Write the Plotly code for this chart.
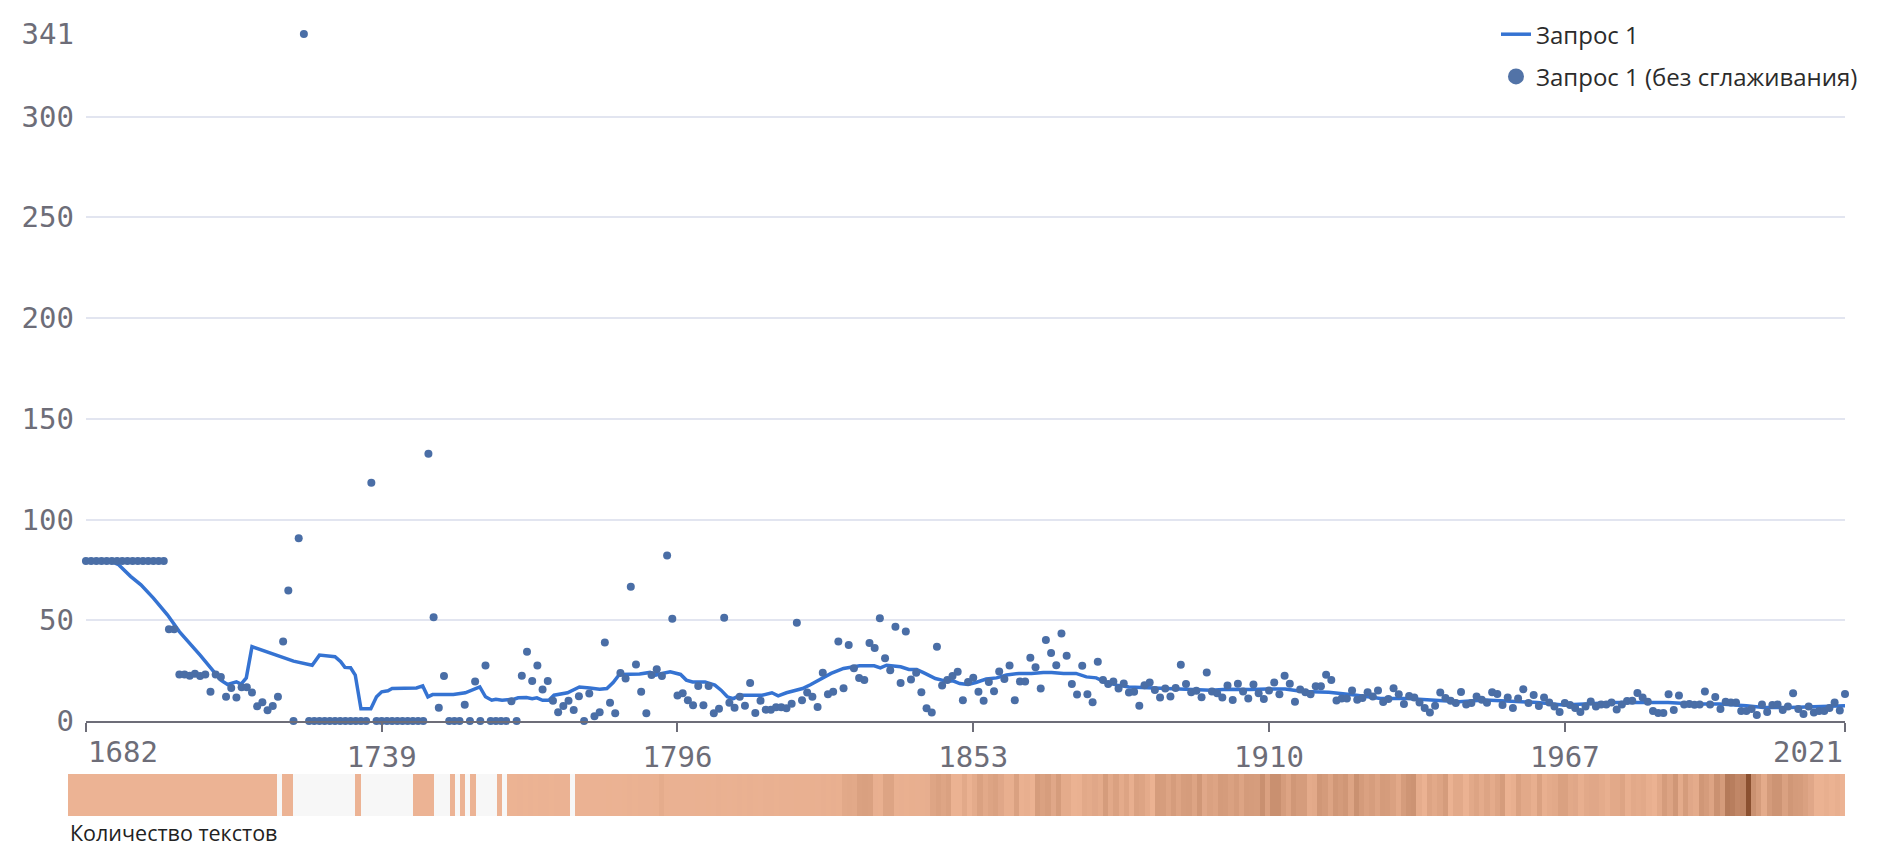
import plotly.graph_objects as go

# years shown on the chart
first_year = 1682
last_year = 2021
years = list(range(first_year, last_year + 1))

# raw (unsmoothed) values, one per year, grouped by decade
raw_values = (
    [79.4] * 8 +                                                        # 1682-1689
    [79.4] * 8 + [45.5, 45.5] +                                         # 1690s
    [23.1, 23.1, 22.4, 23.4, 22.3, 23.1, 14.5, 23.1, 21.8, 12.0] +      # 1700s
    [16.4, 11.6, 16.8, 16.8, 14.1, 7.3, 9.3, 5.3, 7.5, 12.0] +          # 1710s
    [39.5, 64.8, 0, 90.7, 341, 0, 0, 0, 0, 0] +                         # 1720s
    [0, 0, 0, 0, 0, 0, 0, 118.3, 0, 0] +                                # 1730s
    [0, 0, 0, 0, 0, 0, 0, 0, 132.7, 51.5] +                             # 1740s
    [6.6, 22.3, 0, 0, 0, 8.1, 0, 19.6, 0, 27.6] +                       # 1750s
    [0, 0, 0, 0, 9.8, 0, 22.4, 34.4, 19.8, 27.6] +                      # 1760s
    [15.6, 19.9, 10.0, 4.3, 7.5, 10.0, 5.5, 12.3, 0, 13.6] +            # 1770s
    [2.3, 4.3, 39.0, 9.1, 3.8, 23.8, 21.1, 66.6, 28.1, 14.5] +          # 1780s
    [3.8, 22.8, 25.7, 22.3, 82.1, 50.7, 12.6, 13.8, 10.3, 7.8] +        # 1790s
    [17.4, 7.8, 17.4, 3.8, 6.1, 51.2, 9.1, 6.6, 12.0, 7.6] +            # 1800s
    [18.8, 4.0, 10.1, 5.6, 5.6, 6.8, 6.8, 6.3, 8.5, 48.8] +             # 1810s
    [10.3, 14.1, 12.0, 7.0, 23.9, 13.3, 14.5, 39.5, 16.3, 37.7] +       # 1820s
    [26.2, 21.3, 20.4, 38.7, 36.2, 51.0, 31.1, 25.2, 46.8, 18.8] +      # 1830s
    [44.4, 20.6, 23.9, 14.3, 6.3, 4.2, 36.9, 17.6, 20.3, 22.3] +        # 1840s
    [24.4, 10.3, 19.4, 21.4, 14.5, 10.0, 19.4, 14.8, 24.6, 20.8] +      # 1850s
    [27.6, 10.3, 19.6, 19.6, 31.4, 26.7, 16.1, 40.2, 33.7, 27.7] +      # 1860s
    [43.4, 32.4, 18.3, 13.1, 27.4, 13.3, 9.3, 29.4, 20.3, 18.3] +       # 1870s
    [19.6, 16.1, 18.6, 14.1, 14.5, 7.6, 17.8, 19.1, 15.4, 11.6] +       # 1880s
    [16.1, 12.1, 16.4, 27.9, 18.3, 14.3, 15.0, 11.8, 24.1, 14.6] +      # 1890s
    [13.8, 11.6, 17.6, 10.4, 18.5, 14.6, 11.2, 18.1, 13.8, 10.9] +      # 1900s
    [15.1, 19.1, 13.3, 22.5, 18.5, 9.6, 15.6, 14.3, 13.3, 17.3] +       # 1910s
    [17.3, 23.0, 20.3, 10.2, 11.2, 11.2, 15.1, 10.6, 11.4, 14.3] +      # 1920s
    [12.2, 15.1, 9.4, 10.9, 16.3, 13.3, 8.4, 12.4, 11.7, 9.2] +         # 1930s
    [6.5, 4.2, 7.6, 14.1, 11.4, 10.1, 8.9, 14.4, 8.2, 8.9] +            # 1940s
    [12.2, 10.6, 9.1, 14.3, 13.4, 7.9, 11.6, 6.5, 11.2, 15.8] +         # 1950s
    [8.9, 12.9, 7.4, 11.6, 9.2, 7.2, 4.5, 8.9, 7.9, 6.5] +              # 1960s
    [4.5, 7.2, 9.7, 7.2, 8.2, 8.2, 9.2, 5.7, 8.2, 9.9] +                # 1970s
    [10.1, 13.9, 11.7, 9.6, 4.9, 4.0, 4.0, 13.3, 5.5, 12.6] +           # 1980s
    [8.2, 8.4, 8.1, 8.2, 14.6, 8.2, 11.9, 6.0, 9.6, 9.2] +              # 1990s
    [9.2, 4.9, 4.9, 5.9, 3.0, 8.2, 4.4, 7.9, 8.2, 5.5] +                # 2000s
    [7.2, 13.8, 5.9, 3.5, 7.2, 4.2, 5.0, 5.0, 6.5, 9.2] +               # 2010s
    [5.2, 13.4]                                                         # 2020-2021
)

# smoothed line at its turning points
smooth_years = [
    1682, 1686.7, 1688.3, 1690.6, 1692.6, 1695, 1697.7, 1700, 1704, 1706.8,
    1708, 1709.3, 1711, 1711.9, 1712.9, 1714, 1715.8, 1719, 1722, 1725.6,
    1727, 1730, 1731.1, 1731.9, 1733, 1733.9, 1735, 1736.9, 1738, 1739,
    1740.2, 1741, 1744.1, 1745.7, 1746.9, 1747.9, 1748.8, 1752.8, 1755.1, 1756.7,
    1757.9, 1759, 1760.2, 1761, 1762.2, 1764.5, 1765.3, 1766.9, 1768, 1768.9,
    1770, 1771.2, 1772.2, 1774.8, 1776, 1777.1, 1779.1, 1781, 1782.4, 1783.6,
    1784.8, 1786.7, 1788.7, 1790.7, 1791.8, 1793, 1794.6, 1796.6, 1797.7, 1798.9,
    1801.3, 1803.2, 1804.4, 1805.6, 1806.8, 1808, 1812.3, 1814.2, 1815.4, 1817,
    1818.6, 1820.1, 1821.7, 1823.7, 1825.6, 1828, 1831.1, 1833.9, 1835.1, 1836.3,
    1839, 1840.6, 1842.1, 1843.7, 1845.7, 1847.7, 1849.2, 1850.4, 1852, 1853.5,
    1855.5, 1857.5, 1859.4, 1861.8, 1864.2, 1866.5, 1868.1, 1870.4, 1872.8, 1874.8,
    1876.7, 1878.3, 1880.7, 1883, 1886.2, 1889.4, 1892.5, 1895.6, 1898.8, 1901.9,
    1906.4, 1909.7, 1913.1, 1916.5, 1921.5, 1926.5, 1931.5, 1936.6, 1941.6, 1946.6,
    1951.7, 1956.7, 1961.7, 1966.7, 1971.8, 1976.8, 1981.8, 1986.9, 1991.9, 1996.9,
    2002, 2005.3, 2010.3, 2015.4, 2021,
]
smooth_values = [
    79.4, 79.4, 77.6, 71.8, 67.6, 61.0, 52.7, 44.4, 32.7, 23.6,
    20.3, 18.1, 19.4, 18.3, 21.4, 36.9, 35.2, 32.4, 29.7, 27.7,
    32.7, 31.9, 29.4, 26.6, 26.4, 22.8, 6.1, 6.1, 12.0, 14.5,
    15.0, 16.1, 16.1, 16.4, 17.4, 12.0, 13.1, 13.1, 14.0, 15.8,
    16.9, 12.0, 10.3, 10.8, 10.3, 10.8, 11.5, 11.6, 11.1, 11.5,
    10.3, 10.3, 12.8, 14.0, 15.3, 16.9, 16.4, 15.8, 16.1, 19.1,
    23.1, 23.1, 23.3, 24.1, 22.8, 23.6, 24.4, 23.1, 20.3, 19.4,
    19.4, 17.8, 15.3, 12.0, 11.1, 12.8, 12.8, 14.0, 12.5, 14.0,
    15.3, 16.1, 18.1, 21.1, 23.6, 26.1, 27.4, 27.4, 26.4, 27.7,
    26.9, 25.6, 25.6, 23.6, 21.1, 19.8, 19.8, 18.6, 18.1, 19.1,
    20.8, 21.4, 22.8, 23.6, 23.6, 24.1, 24.1, 23.6, 23.6, 21.9,
    21.4, 19.4, 17.8, 16.9, 16.6, 16.1, 15.8, 15.8, 15.3, 15.8,
    15.6, 15.9, 15.9, 14.6, 14.3, 12.9, 11.2, 11.2, 10.4, 9.6,
    10.4, 9.6, 9.2, 7.9, 8.4, 9.2, 9.2, 9.2, 8.4, 8.4,
    7.6, 6.7, 6.7, 7.2, 7.6,
]

# number of texts per year (strip below the chart)
text_counts = (
    [8] * 8 +                                                   # 1682-1689
    [8] * 10 +                                                  # 1690s
    [8] * 10 +                                                  # 1700s
    [8] * 10 +                                                  # 1710s
    [8, 8, 0, 8, 8, 0, 0, 0, 0, 0] +                            # 1720s
    [0, 0, 0, 0, 0, 0, 0, 8, 0, 0] +                            # 1730s
    [0, 0, 0, 0, 0, 0, 0, 0, 8, 8] +                            # 1740s
    [8, 8, 0, 0, 0, 8, 0, 8, 0, 8] +                            # 1750s
    [0, 0, 0, 0, 8, 0, 10, 10, 12, 10] +                        # 1760s
    [12, 10, 14, 12, 10, 12, 14, 12, 0, 14] +                   # 1770s
    [15, 14, 16, 18, 15, 20, 18, 16, 20, 22] +                  # 1780s
    [20, 22, 25, 22, 30, 80, 30, 25, 22, 28] +                  # 1790s
    [25, 28, 30, 25, 30, 28, 32, 30, 28, 30] +                  # 1800s
    [32, 30, 35, 30, 28, 32, 35, 30, 35, 32] +                  # 1810s
    [35, 40, 38, 35, 40, 38, 42, 40, 45, 40] +                  # 1820s
    [110, 120, 110, 190, 200, 190, 45, 40, 160, 160] +          # 1830s
    [40, 45, 40, 50, 45, 50, 55, 150, 190, 150] +               # 1840s
    [190, 20, 20, 110, 20, 90, 190, 110, 160, 190] +            # 1850s
    [125, 50, 50, 190, 30, 50, 20, 240, 190, 230] +             # 1860s
    [125, 240, 90, 90, 20, 30, 110, 90, 125, 90] +              # 1870s
    [240, 110, 190, 90, 160, 50, 190, 160, 90, 20] +            # 1880s
    [240, 230, 160, 240, 160, 230, 240, 160, 290, 125] +        # 1890s
    [190, 160, 250, 240, 190, 240, 160, 250, 240, 230] +        # 1900s
    [360, 190, 360, 360, 240, 160, 290, 240, 240, 90] +         # 1910s
    [110, 290, 250, 160, 290, 250, 290, 160, 350, 250] +        # 1920s
    [190, 230, 160, 250, 240, 190, 110, 240, 310, 330] +        # 1930s
    [80, 20, 160, 110, 160, 240, 20, 110, 110, 20] +            # 1940s
    [110, 160, 90, 160, 90, 160, 240, 20, 50, 190] +            # 1950s
    [110, 110, 50, 190, 50, 90, 110, 190, 190, 110] +           # 1960s
    [125, 50, 110, 125, 125, 90, 50, 110, 110, 160] +           # 1970s
    [50, 110, 90, 110, 50, 20, 110, 240, 160, 290] +            # 1980s
    [90, 240, 125, 90, 290, 240, 160, 350, 250, 580] +          # 1990s
    [540, 450, 480, 1000, 350, 240, 90, 250, 320, 320] +        # 2000s
    [190, 290, 250, 240, 190, 125, 20, 20, 50, 20] +            # 2010s
    [50, 8]                                                     # 2020-2021
)

x_ticks = [1682, 1739, 1796, 1853, 1910, 1967, 2021]
y_ticks = [0, 50, 100, 150, 200, 250, 300, 341]

tick_font = dict(family="DejaVu Sans Mono", size=29, color="#6d6d78")
label_font = dict(family="Open Sans", size=24, color="#2b2b2b")
dot_color = "#4a6ea6"

fig = go.Figure()

fig.add_trace(go.Scatter(
    x=smooth_years, y=smooth_values,
    mode="lines",
    name="Запрос 1",
    legendgroup="a",
    line=dict(color="#3573d2", width=3.5),
    cliponaxis=False,
))

fig.add_trace(go.Scatter(
    x=years, y=raw_values,
    mode="markers",
    name="Запрос 1 (без сглаживания)",
    legendgroup="b",
    showlegend=False,
    marker=dict(color=dot_color, size=8),
    cliponaxis=False,
))

# legend entry for the dots, drawn with a bigger symbol like the original
fig.add_trace(go.Scatter(
    x=[None], y=[None],
    mode="markers",
    name="Запрос 1 (без сглаживания)",
    legendgroup="b",
    marker=dict(color="#5273a7", size=16),
))

fig.add_trace(go.Heatmap(
    x=years, y=[0], z=[text_counts],
    xaxis="x2", yaxis="y2",
    zmin=0, zmax=1000,
    colorscale=[[0, "#f7f7f7"], [0.004, "#f7f7f7"], [0.005, "#ecb394"], [1, "#8b5030"]],
    showscale=False,
    showlegend=False,
))

# end tick labels are kept inside the plot, as in the original
fig.add_annotation(x=x_ticks[0], y=0.0818, xref="x", yref="paper",
                   text=str(x_ticks[0]), showarrow=False,
                   xanchor="left", yanchor="middle", font=tick_font)
fig.add_annotation(x=x_ticks[-1], y=0.0818, xref="x", yref="paper",
                   text=str(x_ticks[-1]), showarrow=False,
                   xanchor="right", yanchor="middle", font=tick_font)
fig.add_annotation(x=0, y=-0.0217, xref="paper", yref="paper",
                   text="Количество текстов", showarrow=False,
                   xanchor="left", yanchor="middle",
                   font=dict(family="Open Sans", size=21.5, color="#222222"))

fig.update_layout(
    width=1874, height=842,
    margin=dict(l=60, r=37, t=26, b=34, autoexpand=False),
    paper_bgcolor="white", plot_bgcolor="white",
    xaxis=dict(
        domain=[0.0101, 1],
        range=[first_year, last_year],
        tickvals=x_ticks,
        ticktext=[""] + [str(v) for v in x_ticks[1:-1]] + [""],
        showgrid=False, zeroline=False,
        showline=True, linecolor="#6d6d78", linewidth=2,
        ticks="outside", ticklen=9, tickwidth=1.5, tickcolor="#6d6d78",
        tickfont=tick_font,
        anchor="y",
    ),
    yaxis=dict(
        domain=[0.1215, 1],
        range=[0, 341],
        tickvals=y_ticks,
        showgrid=True, gridcolor="#e2e5f0", gridwidth=1.5,
        zeroline=False, showline=False,
        tickfont=tick_font,
        ticklabelstandoff=11,
        anchor="x",
    ),
    xaxis2=dict(
        domain=[0, 1],
        range=[first_year - 0.5, last_year + 0.5],
        visible=False,
        anchor="y2",
    ),
    yaxis2=dict(
        domain=[0, 0.0537],
        visible=False,
        anchor="x2",
    ),
    legend=dict(
        x=0.8036, xanchor="left",
        y=1.028, yanchor="top",
        bgcolor="white",
        font=label_font,
        traceorder="grouped",
        tracegroupgap=8,
    ),
)

fig.write_html("out.html")
